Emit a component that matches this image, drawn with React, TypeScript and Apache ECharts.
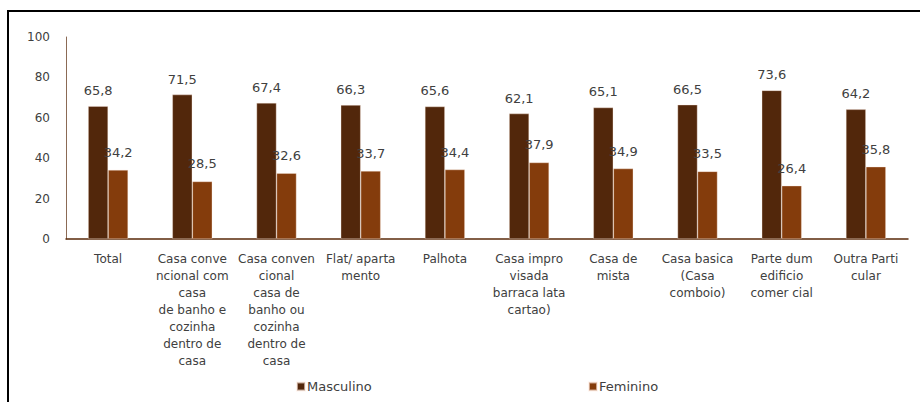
import React, { useEffect, useRef } from "react";
import * as echarts from "echarts";

const categories: string[] = [
  "Total",
  "Casa conve\nncional com\ncasa\nde banho e\ncozinha\ndentro de\ncasa",
  "Casa conven\ncional\ncasa de\nbanho ou\ncozinha\ndentro de\ncasa",
  "Flat/ aparta\nmento",
  "Palhota",
  "Casa impro\nvisada\nbarraca lata\ncartao)",
  "Casa de\nmista",
  "Casa basica\n(Casa\ncomboio)",
  "Parte dum\nedificio\ncomer cial",
  "Outra Parti\ncular",
];
const masculino: number[] = [65.8, 71.5, 67.4, 66.3, 65.6, 62.1, 65.1, 66.5, 73.6, 64.2];
const feminino: number[] = [34.2, 28.5, 32.6, 33.7, 34.4, 37.9, 34.9, 33.5, 26.4, 35.8];
const yTicks = { min: 0, max: 100, interval: 20 };

const FONT = "DejaVu Sans";
const fmt = (p: any) => Number(p.value).toFixed(1).replace(".", ",");

export default function App() {
  const ref = useRef<HTMLDivElement>(null);
  useEffect(() => {
    if (!ref.current) return;
    const chart = echarts.init(ref.current, null, { renderer: "svg" });
    const legendBase = {
      top: 375,
      itemWidth: 8,
      itemHeight: 8,
      itemGap: 4,
      icon: "rect",
      textStyle: { fontFamily: FONT, fontSize: 13, color: "#404040", padding: [0, 0, 0, -3] },
    };
    chart.setOption({
      animation: false,
      backgroundColor: "#ffffff",
      textStyle: { fontFamily: FONT },
      grid: { left: 66, right: 12, top: 37, bottom: 163, containLabel: false },
      legend: [
        { ...legendBase, data: ["Masculino"], left: 291 },
        { ...legendBase, data: ["Feminino"], left: 583 },
      ],
      xAxis: {
        type: "category",
        data: categories,
        axisLine: { show: true, lineStyle: { color: "#5a2a0a", width: 1.5 } },
        axisTick: { show: false },
        axisLabel: {
          interval: 0,
          margin: 11,
          fontFamily: FONT,
          fontSize: 12,
          color: "#404040",
          lineHeight: 17,
          align: "center",
        },
      },
      yAxis: {
        type: "value",
        min: yTicks.min,
        max: yTicks.max,
        interval: yTicks.interval,
        splitLine: { show: false },
        axisTick: { show: false },
        axisLine: { show: true, lineStyle: { color: "#8b6a55", width: 1 } },
        axisLabel: { margin: 16, fontFamily: FONT, fontSize: 12, color: "#404040" },
      },
      series: [
        {
          name: "Masculino",
          type: "bar",
          data: masculino,
          barWidth: 20,
          barGap: "0%",
          itemStyle: { color: "#52270b", borderColor: "rgba(255,235,225,0.6)", borderWidth: 0.6 },
          label: {
            show: true,
            position: "top",
            distance: 9,
            formatter: fmt,
            fontFamily: FONT,
            fontSize: 13,
            color: "#404040",
          },
        },
        {
          name: "Feminino",
          type: "bar",
          data: feminino,
          barWidth: 20,
          barGap: "0%",
          itemStyle: { color: "#843c0c", borderColor: "rgba(255,235,225,0.6)", borderWidth: 0.6 },
          label: {
            show: true,
            position: "top",
            distance: 11,
            formatter: fmt,
            fontFamily: FONT,
            fontSize: 13,
            color: "#404040",
          },
        },
      ],
      graphic: [
        { type: "rect", shape: { x: 7, y: 10, width: 913, height: 2 }, style: { fill: "#000000" }, silent: true },
        { type: "rect", shape: { x: 7, y: 10, width: 2, height: 392 }, style: { fill: "#000000" }, silent: true },
      ],
    });
    return () => chart.dispose();
  }, []);
  return (
    <div
      ref={ref}
      style={{ position: "fixed", left: 0, top: 0, width: 920, height: 402 }}
    />
  );
}
